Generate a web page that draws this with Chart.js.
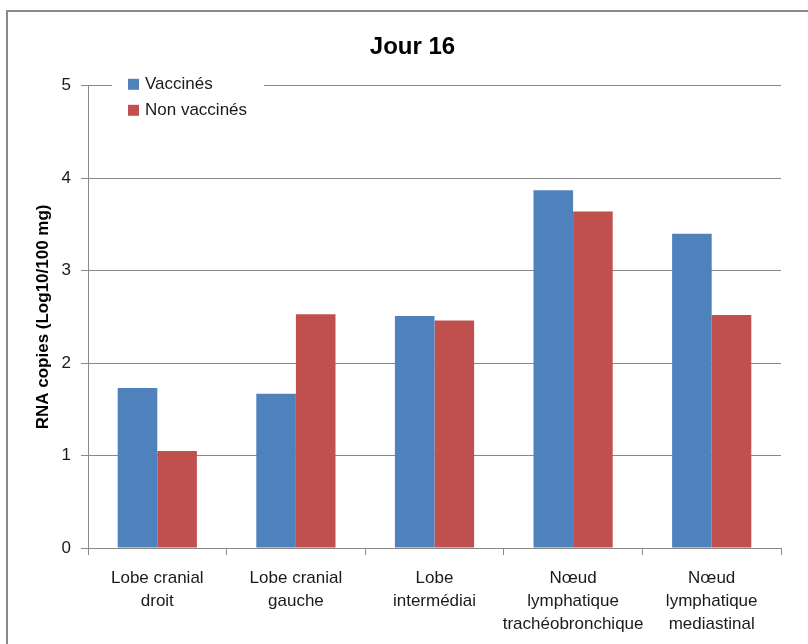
<!DOCTYPE html>
<html>
<head>
<meta charset="utf-8">
<script src="https://cdn.jsdelivr.net/npm/chart.js@4.4.0/dist/chart.umd.min.js"></script>
<style>
    html, body { margin: 0; padding: 0; background: #fff; }
    #wrap { width: 808px; height: 644px; position: relative; }
</style>
</head>
<body>
<div id="wrap"><canvas id="jourChart" width="808" height="644"></canvas></div>
<script>
// Data
const categories = [
    ['Lobe cranial', 'droit'],
    ['Lobe cranial', 'gauche'],
    ['Lobe', 'intermédiai'],
    ['Nœud', 'lymphatique', 'trachéobronchique'],
    ['Nœud', 'lymphatique', 'mediastinal']
];
const vaccines = [1.73, 1.67, 2.51, 3.87, 3.40];
const nonVaccines = [1.05, 2.53, 2.46, 3.64, 2.52];
const yTicks = [0, 1, 2, 3, 4, 5];

const FONT = '"Liberation Sans", Arial, sans-serif';

// outer frame like the original picture
const framePlugin = {
    id: 'frame',
    beforeDraw(chart) {
        const ctx = chart.ctx;
        ctx.save();
        ctx.fillStyle = '#fff';
        ctx.fillRect(0, 0, chart.width, chart.height);
        ctx.strokeStyle = '#898989';
        ctx.lineWidth = 2;
        ctx.strokeRect(7, 11, 830, 700);
        ctx.restore();
    },
    afterLayout(chart) {
        // the title sits a bit right of the canvas centre in the original
        if (chart.titleBlock) {
            chart.titleBlock.left += 22;
            chart.titleBlock.right += 22;
        }
    }
};

// legend drawn inside the plot, with a white box over the top gridline
const insideLegend = {
    id: 'insideLegend',
    afterDatasetsDraw(chart) {
        const ctx = chart.ctx;
        const area = chart.chartArea;
        const x0 = area.left + 26;
        ctx.save();
        ctx.fillStyle = '#fff';
        ctx.fillRect(x0 - 2, area.top - 10, 152, 48);
        ctx.font = '17px ' + FONT;
        ctx.textBaseline = 'middle';
        chart.data.datasets.forEach(function(ds, i) {
            const cy = area.top - 2 + i * 26;
            ctx.fillStyle = ds.backgroundColor;
            ctx.fillRect(x0 + 14, cy - 5, 11, 11);
            ctx.fillStyle = '#1a1a1a';
            ctx.fillText(ds.label, x0 + 31, cy + 1);
        });
        ctx.restore();
    }
};

const ctx = document.getElementById('jourChart').getContext('2d');
const jourChart = new Chart(ctx, {
    type: 'bar',
    data: {
        labels: categories,
        datasets: [{
            label: 'Vaccinés',
            data: vaccines,
            backgroundColor: '#4F81BD',
            borderWidth: 0
        }, {
            label: 'Non vaccinés',
            data: nonVaccines,
            backgroundColor: '#C0504D',
            borderWidth: 0
        }]
    },
    options: {
        responsive: false,
        animation: false,
        devicePixelRatio: 1,
        categoryPercentage: 2 / 3.5,
        barPercentage: 1,
        layout: {
            padding: { left: 0, right: 27, top: 0, bottom: 0 }
        },
        scales: {
            x: {
                grid: {
                    offset: true,
                    drawOnChartArea: false,
                    drawTicks: true,
                    tickLength: 7,
                    color: '#888'
                },
                border: { color: '#888', width: 1 },
                ticks: {
                    color: '#1a1a1a',
                    padding: 12,
                    maxRotation: 0,
                    autoSkip: false,
                    font: { family: FONT, size: 17, lineHeight: 23 / 17 }
                },
                afterFit(scale) { scale.height = 644 - 548; }
            },
            y: {
                min: 0,
                max: 5,
                afterBuildTicks(scale) {
                    scale.ticks = yTicks.map(function(v) { return { value: v }; });
                },
                grid: {
                    color: '#888',
                    tickLength: 7,
                    lineWidth: 1
                },
                border: { color: '#888', width: 1 },
                ticks: {
                    color: '#1a1a1a',
                    padding: 10,
                    font: { family: FONT, size: 17 }
                },
                title: {
                    display: true,
                    text: 'RNA copies (Log10/100 mg)',
                    color: '#000',
                    font: { family: FONT, size: 17, weight: 'bold' },
                    padding: { top: 33, bottom: 0 }
                },
                afterFit(scale) { scale.width = 88; }
            }
        },
        plugins: {
            legend: { display: false },
            tooltip: { enabled: false },
            title: {
                display: true,
                text: 'Jour 16',
                color: '#000',
                font: { family: FONT, size: 24, weight: 'bold' },
                padding: { top: 33, bottom: 24 }
            }
        }
    },
    plugins: [framePlugin, insideLegend]
});
</script>
</body>
</html>
